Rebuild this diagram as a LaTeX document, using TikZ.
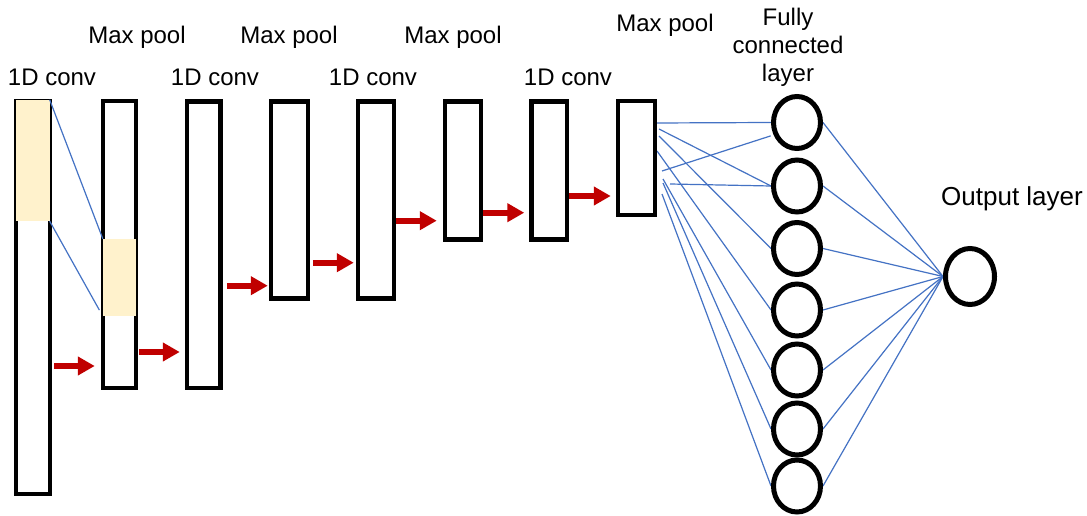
\documentclass[tikz,border=0pt]{standalone}
\usepackage{fontspec}
\setmainfont{Liberation Sans}
\usetikzlibrary{arrows.meta,shapes.geometric,backgrounds}
\definecolor{cream}{HTML}{FFF2CC}
\definecolor{wire}{HTML}{4472C4}
\definecolor{flow}{HTML}{C00000}
\begin{document}
\begin{tikzpicture}[x=1pt,y=-1pt,
  layer/.style={draw=black, line width=4.5pt, inner sep=0pt, rectangle},
  hl/.style={fill=cream, inner sep=0pt, rectangle},
  neuron/.style={draw=black, line width=5pt, ellipse, inner sep=0pt, minimum width=47pt, minimum height=52pt},
  wireline/.style={draw=wire, line width=1.2pt},
  flowarrow/.style={draw=flow, line width=6pt, -{Triangle[length=17pt,width=18pt]}},
  lab/.style={font=\fontsize{24}{28}\selectfont, inner sep=0pt, anchor=base, text=black}]
\useasboundingbox (0,0) rectangle (1087,516);

% layer boxes
\node[layer, minimum width=34pt, minimum height=393pt] (r1) at (33,297.5) {};
\node[layer, minimum width=33pt, minimum height=287pt] (r2) at (119.5,244.5) {};
\node[layer, minimum width=33.5pt, minimum height=286.5pt] (r3) at (203.75,244.75) {};
\node[layer, minimum width=37pt, minimum height=197pt] (r4) at (289.5,200) {};
\node[layer, minimum width=36pt, minimum height=197pt] (r5) at (376,200) {};
\node[layer, minimum width=36pt, minimum height=138pt] (r6) at (463,170.5) {};
\node[layer, minimum width=35.5pt, minimum height=138pt] (r7) at (549.25,170.5) {};
\node[layer, minimum width=37pt, minimum height=114pt] (r8) at (636.5,158) {};

% highlighted windows
\node[hl, minimum width=33.5pt, minimum height=121pt] (h1) at (32.75,160.5) {};
\node[hl, minimum width=32.5pt, minimum height=77pt] (h2) at (119.25,277.5) {};

\draw[wireline] (h1.north east) -- (h2.north west);
\draw[wireline, shorten >=7pt] (h1.south east) -- (h2.south west);

% labels
\node[lab] (t1) at (52,86) {1D conv};
\node[lab] (t2) at (137,44) {Max pool};
\node[lab] (t3) at (215,86) {1D conv};
\node[lab] (t4) at (289,44) {Max pool};
\node[lab] (t5) at (373,86) {1D conv};
\node[lab] (t6) at (453,44) {Max pool};
\node[lab] (t7) at (568,86) {1D conv};
\node[lab] (t8) at (665,32) {Max pool};
\node[lab, align=center] (t9) at (788,82) {Fully\\connected\\layer};
\node[lab, font=\fontsize{26}{30}\selectfont] (t10) at (1012,205) {Output layer};

% arrow levels
\coordinate (y1) at (0,366);
\coordinate (y2) at (0,352);
\coordinate (y3) at (0,285.7);
\coordinate (y4) at (0,262.7);
\coordinate (y5) at (0,220.7);
\coordinate (y6) at (0,212.7);
\coordinate (y7) at (0,196);

\draw[flowarrow, shorten <=2pt, shorten >=6pt] (r1.east |- y1) -- (r2.west |- y1);
\draw[flowarrow, shorten <=1pt, shorten >=5pt] (r2.east |- y2) -- (r3.west |- y2);
\draw[flowarrow, shorten <=4pt, shorten >=1pt] (r3.east |- y3) -- (r4.west |- y3);
\draw[flowarrow, shorten <=2.5pt, shorten >=2pt] (r4.east |- y4) -- (r5.west |- y4);
\draw[flowarrow, shorten <=0pt, shorten >=6pt] (r5.east |- y5) -- (r6.west |- y5);
\draw[flowarrow, shorten <=0pt, shorten >=5pt] (r6.east |- y6) -- (r7.west |- y6);
\draw[flowarrow, shorten <=0pt, shorten >=5pt] (r7.east |- y7) -- (r8.west |- y7);

% fully connected neurons
\node[neuron] (f1) at (797,122.5) {};
\node[neuron] (f2) at (797,186) {};
\node[neuron] (f3) at (797,248.5) {};
\node[neuron] (f4) at (797,310) {};
\node[neuron] (f5) at (797,370) {};
\node[neuron] (f6) at (797,429) {};
\node[neuron] (f7) at (797,486) {};
\node[neuron, minimum width=49pt, minimum height=56pt] (out) at (970,276.5) {};

% wire start points next to the last pooling box
\coordinate (s1) at (655,123);
\coordinate (s2) at (659,129);
\coordinate (s3) at (659,136);
\coordinate (s4) at (657,151);
\coordinate (s5) at (662,171);
\coordinate (s6) at (670,184);
\coordinate (s7) at (663,179);
\coordinate (s8) at (663,183);
\coordinate (s9) at (662,194);

\begin{scope}[on background layer]
\fill[white] (0,0) rectangle (1087,516);
\draw[wireline] (s1) -- (f1.west);
\draw[wireline] (s2) -- (f2.west);
\draw[wireline] (s3) -- (f3.west);
\draw[wireline] (s4) -- (f4.west);
\draw[wireline, shorten >=3pt] (s5) -- (f1.208);
\draw[wireline] (s6) -- (f2.west);
\draw[wireline] (s7) -- (f5.west);
\draw[wireline] (s8) -- (f6.west);
\draw[wireline] (s9) -- (f7.west);
\foreach \n in {f1,f2,f3,f4,f5,f6,f7}
  \draw[wireline] (\n.east) -- (out.west);
\end{scope}
\end{tikzpicture}
\end{document}
